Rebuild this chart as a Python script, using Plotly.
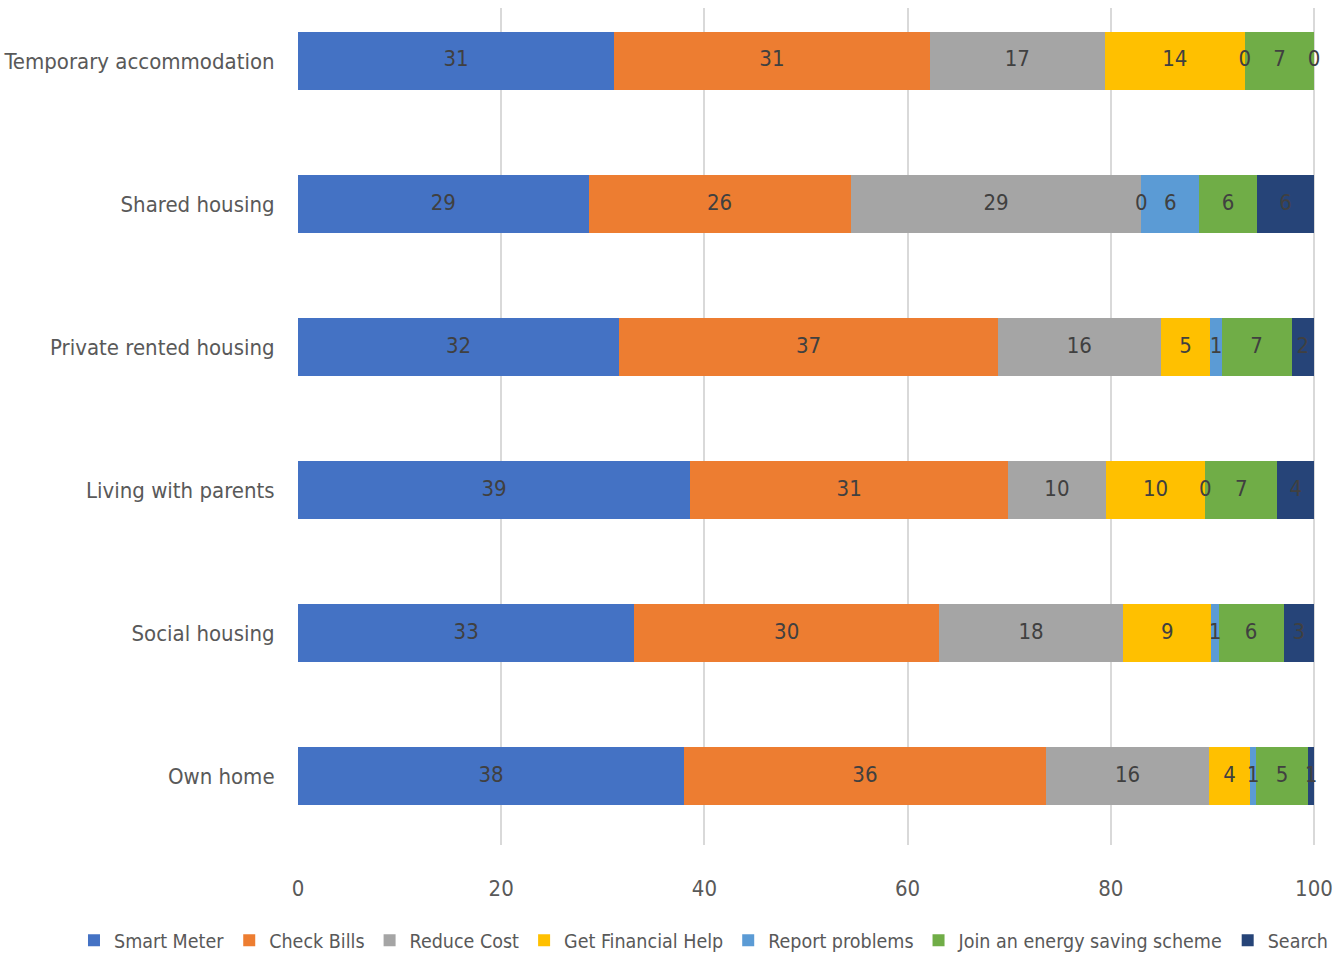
import plotly.graph_objects as go

categories = ["Own home", "Social housing", "Living with parents",
              "Private rented housing", "Shared housing", "Temporary accommodation"]

series_names = ["Smart Meter", "Check Bills", "Reduce Cost", "Get Financial Help",
                "Report problems", "Join an energy saving scheme", "Search"]

smart_meter = [38.0, 33.1, 38.6, 31.6, 28.6, 31.1]
check_bills = [35.6, 30.0, 31.3, 37.3, 25.8, 31.1]
reduce_cost = [16.1, 18.1, 9.6, 16.0, 28.6, 17.2]
financial_help = [4.0, 8.7, 9.8, 4.9, 0.0, 13.8]
report_problems = [0.6, 0.7, 0.0, 1.1, 5.7, 0.0]
energy_scheme = [5.1, 6.4, 7.1, 6.9, 5.7, 6.8]
search = [0.6, 3.0, 3.6, 2.2, 5.6, 0.0]

colors = ["#4472C4", "#ED7D31", "#A5A5A5", "#FFC000", "#5B9BD5", "#70AD47", "#264478"]

x_ticks = [0, 20, 40, 60, 80, 100]

FONT = "DejaVu Sans Condensed, Liberation Sans Narrow, Arial Narrow, sans-serif"
FS = 22

all_series = [smart_meter, check_bills, reduce_cost, financial_help,
              report_problems, energy_scheme, search]

fig = go.Figure()
for name, vals, col in zip(series_names, all_series, colors):
    fig.add_trace(go.Bar(
        y=categories, x=vals, name=name, orientation="h",
        marker=dict(color=col, line=dict(width=0)),
        textposition="none", hoverinfo="x+y+name",
    ))

# data labels drawn above all bars (centred on each segment)
cum = [0.0] * len(categories)
for name, vals in zip(series_names, all_series):
    centers = [c + v / 2 for c, v in zip(cum, vals)]
    fig.add_trace(go.Scatter(
        y=categories, x=centers, mode="text", customdata=vals,
        texttemplate="%{customdata:.0f}", textposition="middle center",
        textfont=dict(family=FONT, size=FS, color="#404040"),
        showlegend=False, hoverinfo="skip", cliponaxis=False,
    ))
    cum = [c + v for c, v in zip(cum, vals)]

# plot area spans x=298..1337 px; x=100 sits at 1314 px as in the reference
x_max = 100 * (1337 - 298) / (1314 - 298)

fig.update_layout(
    width=1337, height=958,
    barmode="stack", bargap=0.595,
    plot_bgcolor="white", paper_bgcolor="white",
    margin=dict(l=298, r=0, t=8, b=113, autoexpand=False),
    font=dict(family=FONT, size=FS, color="#595959"),
    xaxis=dict(range=[0, x_max], tickvals=x_ticks, showgrid=True, gridcolor="#D9D9D9",
               gridwidth=1.5, zeroline=False, showline=False,
               ticks="outside", ticklen=24, tickcolor="rgba(0,0,0,0)",
               tickfont=dict(family=FONT, size=FS, color="#595959"), fixedrange=True),
    yaxis=dict(categoryorder="array", categoryarray=categories, range=[-0.48, 5.37],
               showgrid=False, zeroline=False, showline=False,
               ticks="outside", ticklen=18, tickcolor="rgba(0,0,0,0)",
               tickfont=dict(family=FONT, size=FS, color="#595959")),
    legend=dict(orientation="h", x=-0.2156, xanchor="left", y=-0.091, yanchor="top",
                font=dict(family=FONT, size=19.5, color="#595959"),
                traceorder="normal", itemclick=False),
)

fig.write_html("out.html")
